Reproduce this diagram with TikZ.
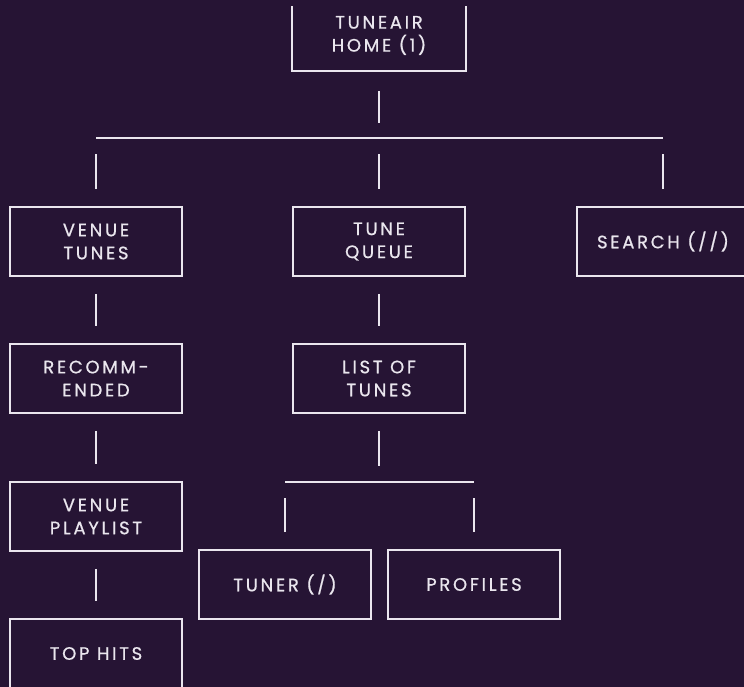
\documentclass[tikz,border=0pt]{standalone}
\usepackage{fontspec}
\setmainfont[LetterSpace=15,FakeBold=0.7]{Poppins}
\definecolor{bg}{RGB}{38,20,52}
\definecolor{ln}{RGB}{234,230,238}
\begin{document}
\begin{tikzpicture}[x=1pt,y=-1pt,
  box/.style={draw=ln,line width=1.6pt,minimum width=172pt,minimum height=69pt,inner sep=0pt,
    text=ln,align=center,font=\fontsize{18}{23}\selectfont},
  openbox/.style={box,draw=none},
  conn/.style={draw=ln,line width=1.6pt}]
\fill[bg] (0,0) rectangle (744,687);
\clip (0,0) rectangle (744,687);
\useasboundingbox (0,0) rectangle (744,687);
% nodes
\node[openbox] (home) at (379,35.5) {TUNEAIR\\HOME (1)};
\node[box] (vt) at (96,241.5) {VENUE\\TUNES};
\node[box] (tq) at (379,241.5) {TUNE\\QUEUE};
\node[box] (se) at (663,241.5) {SEARCH (//)};
\node[box] (rec) at (96,378.5) {RECOMM-\\ENDED};
\node[box] (lot) at (379,378.5) {LIST OF\\TUNES};
\node[box] (vp) at (96,516.5) {VENUE\\PLAYLIST};
\node[box] (tun) at (285,584.5) {TUNER (/)};
\node[box] (pro) at (474,584.5) {PROFILES};
\node[box] (th) at (96,653.5) {TOP HITS};
% open top box
\draw[conn] ([yshift=-6pt]home.north west) -- (home.south west) -- (home.south east) -- ([yshift=-6pt]home.north east);
% top level bar
\coordinate (barL) at (96,138);
\coordinate (barR) at (663,138);
\draw[conn] ([yshift=-20pt]home.south) -- ([yshift=-52pt]home.south);
\draw[conn] (barL) -- (barR);
\draw[conn] ([yshift=17pt]vt.north) -- ([yshift=52pt]vt.north);
\draw[conn] ([yshift=17pt]tq.north) -- ([yshift=52pt]tq.north);
\draw[conn] ([yshift=17pt]se.north) -- ([yshift=52pt]se.north);
% vertical chains
\draw[conn] ([yshift=-17pt]vt.south) -- ([yshift=17pt]rec.north);
\draw[conn] ([yshift=-17pt]rec.south) -- ([yshift=17pt]vp.north);
\draw[conn] ([yshift=-17pt]vp.south) -- ([yshift=17pt]th.north);
\draw[conn] ([yshift=-17pt]tq.south) -- ([yshift=17pt]lot.north);
\draw[conn] ([yshift=-17pt]lot.south) -- ([yshift=-52pt]lot.south);
% lower bar
\coordinate (lbL) at (285,482);
\coordinate (lbR) at (474,482);
\draw[conn] (lbL) -- (lbR);
\draw[conn] ([yshift=17pt]tun.north) -- ([yshift=51pt]tun.north);
\draw[conn] ([yshift=17pt]pro.north) -- ([yshift=51pt]pro.north);
\end{tikzpicture}
\end{document}
